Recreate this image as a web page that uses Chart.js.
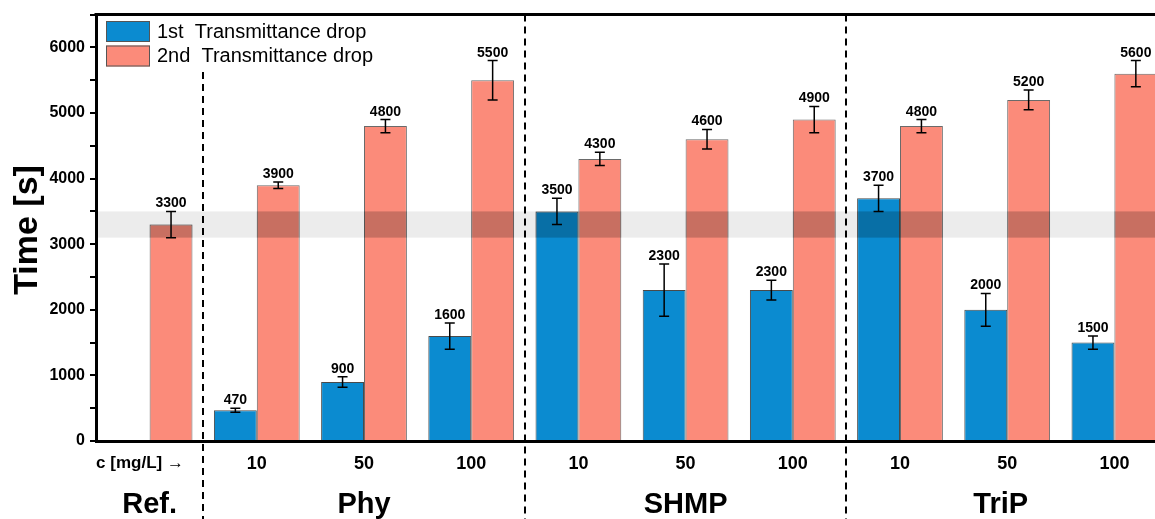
<!DOCTYPE html>
<html>
<head>
<meta charset="utf-8">
<script src="https://cdn.jsdelivr.net/npm/chart.js@4"></script>
<style>
  html, body { margin: 0; padding: 0; background: #fff; }
  #wrap { width: 1155px; height: 519px; overflow: hidden; }
</style>
</head>
<body>
<div id="wrap"><canvas id="dropChart" width="1180" height="519"></canvas></div>
<script>
// concentration tick labels, one per bar pair
const concLabels = ["", "10", "50", "100", "10", "50", "100", "10", "50", "100"];
const groupNames = ["Ref.", "Phy", "SHMP", "TriP"];
const groupSizes = [1, 3, 3, 3];
const firstDrop = [null, 470, 900, 1600, 3500, 2300, 2300, 3700, 2000, 1500];
const firstErr = [null, 30, 80, 200, 200, 400, 150, 200, 250, 100];
const secondDrop = [3300, 3900, 4800, 5500, 4300, 4600, 4900, 4800, 5200, 5600];
const secondErr = [200, 50, 100, 300, 100, 150, 200, 100, 150, 200];
const refBand = [3100, 3500];

const FONT = "'Liberation Sans', Arial, sans-serif";
const BLUE = "#0b8bd0";
const SALMON = "#fb8b7a";
const VISIBLE_W = 1155;

const errors = [firstErr, secondErr];

const overlay = {
    id: "overlay",
    beforeDatasetsDraw(chart) {
        const { ctx, chartArea: a, scales: { y } } = chart;
        const t = y.getPixelForValue(refBand[1]);
        const b = y.getPixelForValue(refBand[0]);
        ctx.save();
        ctx.fillStyle = "rgba(0,0,0,0.075)";
        ctx.fillRect(a.left, t, a.right - a.left, b - t);
        ctx.restore();
    },
    afterDatasetsDraw(chart) {
        const { ctx, chartArea: a, scales: { x, y } } = chart;
        const bandTop = y.getPixelForValue(refBand[1]);
        const bandBot = y.getPixelForValue(refBand[0]);
        ctx.save();

        // band darkens the bars it crosses
        ctx.fillStyle = "rgba(0,0,0,0.2)";
        chart.data.datasets.forEach((ds, i) => {
            chart.getDatasetMeta(i).data.forEach((el, j) => {
                if (ds.data[j] == null) return;
                const top = Math.max(el.y, bandTop);
                const bot = Math.min(el.base, bandBot);
                if (bot > top) ctx.fillRect(el.x - el.width / 2, top, el.width, bot - top);
            });
        });

        // error bars and value labels
        ctx.strokeStyle = "#000";
        ctx.fillStyle = "#000";
        ctx.lineWidth = 1.5;
        ctx.font = "bold 14px " + FONT;
        ctx.textAlign = "center";
        ctx.textBaseline = "alphabetic";
        chart.data.datasets.forEach((ds, i) => {
            chart.getDatasetMeta(i).data.forEach((el, j) => {
                const v = ds.data[j];
                if (v == null) return;
                const e = errors[i][j];
                const yt = y.getPixelForValue(v + e);
                const yb = y.getPixelForValue(v - e);
                ctx.beginPath();
                ctx.moveTo(el.x, yt); ctx.lineTo(el.x, yb);
                ctx.moveTo(el.x - 5, yt); ctx.lineTo(el.x + 5, yt);
                ctx.moveTo(el.x - 5, yb); ctx.lineTo(el.x + 5, yb);
                ctx.stroke();
                ctx.fillText(String(v), el.x, yt - 4);
            });
        });

        // legend
        const legendItems = chart.data.datasets.map(ds => [ds.label, ds.backgroundColor]);
        ctx.font = "20px " + FONT;
        ctx.textAlign = "left";
        ctx.textBaseline = "middle";
        ctx.lineWidth = 1;
        ctx.strokeStyle = "#555";
        legendItems.forEach(([label, color], k) => {
            const ly = 21 + k * 24.5;
            ctx.fillStyle = color;
            ctx.fillRect(106, ly, 44, 21);
            ctx.strokeRect(106.5, ly + 0.5, 43, 20);
            ctx.fillStyle = "#000";
            ctx.fillText(label, 157, ly + 11);
        });
        const legendBottom = 21 + legendItems.length * 24.5;
        const legendRight = 380;

        // group separators and group names
        const step = x.getPixelForValue(1) - x.getPixelForValue(0);
        const edges = [a.left];
        let idx = 0;
        groupSizes.forEach(n => {
            idx += n;
            edges.push(idx < concLabels.length ? x.getPixelForValue(idx) - step / 2 : VISIBLE_W);
        });
        ctx.strokeStyle = "#000";
        ctx.lineWidth = 2;
        ctx.setLineDash([7, 5]);
        for (let k = 1; k < edges.length - 1; k++) {
            const sx = Math.round(edges[k]);
            const startY = sx < legendRight ? legendBottom + 2 : a.top;
            ctx.beginPath();
            ctx.moveTo(sx, startY);
            ctx.lineTo(sx, chart.height);
            ctx.stroke();
        }
        ctx.setLineDash([]);

        ctx.font = "bold 29px " + FONT;
        ctx.textAlign = "center";
        ctx.textBaseline = "middle";
        groupNames.forEach((g, k) => {
            ctx.fillText(g, (edges[k] + edges[k + 1]) / 2, 505);
        });

        ctx.font = "bold 17px " + FONT;
        ctx.fillText("c [mg/L] \u2192", 140, 463);

        // top frame line
        ctx.lineWidth = 3;
        ctx.beginPath();
        ctx.moveTo(a.left - 1.5, a.top);
        ctx.lineTo(a.right, a.top);
        ctx.stroke();

        // y title
        ctx.save();
        ctx.translate(28, 230);
        ctx.rotate(-Math.PI / 2);
        ctx.font = "bold 34px " + FONT;
        ctx.fillText("Time [s]", 0, 0);
        ctx.restore();

        ctx.restore();
    }
};

new Chart(document.getElementById("dropChart").getContext("2d"), {
    type: "bar",
    data: {
        labels: concLabels,
        datasets: [{
            label: "1st  Transmittance drop",
            data: firstDrop,
            backgroundColor: BLUE,
            borderColor: "#4a4a4a",
            borderWidth: 1,
            categoryPercentage: 0.8,
            barPercentage: 1.0
        }, {
            label: "2nd  Transmittance drop",
            data: secondDrop,
            backgroundColor: SALMON,
            borderColor: "#6a6a6a",
            borderWidth: 1,
            categoryPercentage: 0.8,
            barPercentage: 1.0
        }]
    },
    options: {
        responsive: false,
        animation: false,
        devicePixelRatio: 1,
        layout: { padding: { top: 14, right: 12, left: 0, bottom: 0 } },
        plugins: { legend: { display: false }, tooltip: { enabled: false } },
        scales: {
            x: {
                afterFit(scale) { scale.height = 78; },
                grid: { display: false },
                border: { display: true, width: 3, color: "#000" },
                ticks: {
                    color: "#000",
                    padding: 4,
                    maxRotation: 0,
                    autoSkip: false,
                    font: { family: FONT, size: 18, weight: "bold" }
                }
            },
            y: {
                min: 0,
                max: 6500,
                afterFit(scale) { scale.width = 96; },
                grid: { display: true, drawOnChartArea: false, drawTicks: true, tickLength: 6, color: "#000", lineWidth: 2 },
                border: { display: true, width: 3, color: "#000" },
                ticks: {
                    stepSize: 500,
                    color: "#000",
                    padding: 5,
                    font: { family: FONT, size: 16, weight: "bold" },
                    callback: v => (v % 1000 === 0 ? v : "")
                }
            }
        }
    },
    plugins: [overlay]
});
</script>
</body>
</html>
